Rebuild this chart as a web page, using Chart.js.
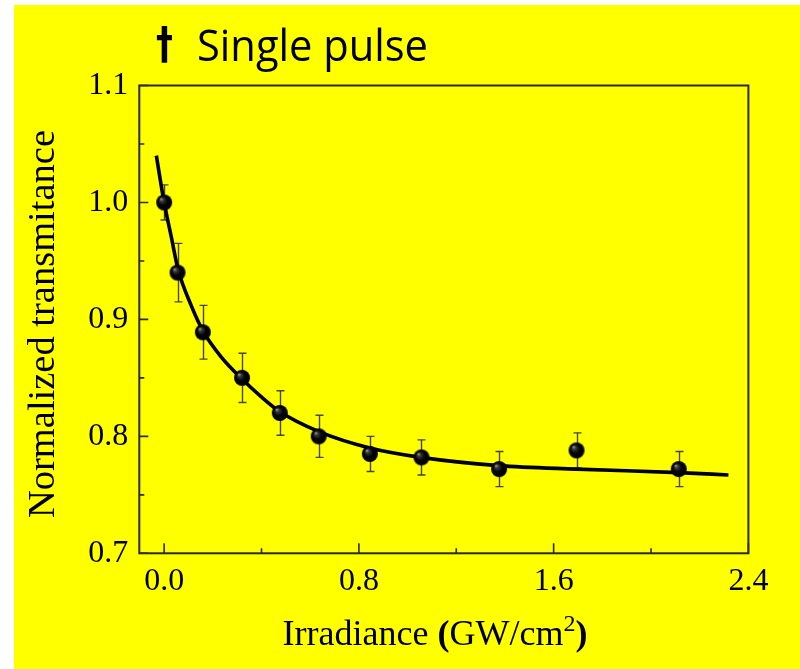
<!DOCTYPE html>
<html><head><meta charset="utf-8">
<script src="https://cdn.jsdelivr.net/npm/chart.js@4"></script>
<style>html,body{margin:0;padding:0;background:#fff;}#wrap{width:800px;height:669px;position:relative;}canvas{display:block;}</style>
</head><body><div id="wrap"><canvas id="c" width="800" height="669"></canvas></div>
<script>
// ---- data ----
const irradiance    = [0.0, 0.055, 0.159, 0.32, 0.475, 0.635, 0.845, 1.057, 1.376, 1.694, 2.114];
const transmittance = [1.000, 0.940, 0.889, 0.850, 0.820, 0.800, 0.785, 0.782, 0.772, 0.788, 0.772];
const errors        = [0.015, 0.025, 0.023, 0.021, 0.019, 0.018, 0.015, 0.015, 0.015, 0.015, 0.015];
const fitX = [-0.032, 0.000, 0.029, 0.057, 0.111, 0.160, 0.234, 0.320, 0.398, 0.476, 0.636, 0.845, 1.054, 1.374, 1.694, 2.113, 2.318];
const fitY = [1.040, 1.000, 0.971, 0.943, 0.912, 0.890, 0.868, 0.849, 0.834, 0.821, 0.804, 0.790, 0.782, 0.775, 0.772, 0.769, 0.767];
const xTicks = [0.0, 0.8, 1.6, 2.4];
const xMinorTicks = [0.4, 1.2, 2.0];
const yTicks = [0.7, 0.8, 0.9, 1.0, 1.1];
const yMinorTicks = [0.75, 0.85, 0.95, 1.05];
const titleDagger = '†';
const titleText = 'Single pulse';
const yTitle = 'Normalized transmitance';
const xTitleParts = ['Irradiance ', '(', 'GW/cm', '2', ')'];

function makeBall(r){
  const s = Math.ceil(r*2+2);
  const c = document.createElement('canvas'); c.width = s; c.height = s;
  const g = c.getContext('2d'); const cx = s/2, cy = s/2;
  const grad = g.createRadialGradient(cx-r*0.4, cy-r*0.45, 0, cx, cy, r);
  grad.addColorStop(0, '#b0b0b0'); grad.addColorStop(0.22, '#3a3a3a');
  grad.addColorStop(0.55, '#050505'); grad.addColorStop(1, '#000');
  g.fillStyle = grad; g.beginPath(); g.arc(cx, cy, r, 0, Math.PI*2); g.fill();
  return c;
}
const ball = makeBall(8);

const bgPlugin = {
  id: 'bg',
  beforeDraw(chart){
    const ctx = chart.ctx; ctx.save();
    ctx.fillStyle = '#fff'; ctx.fillRect(0,0,chart.width,chart.height);
    ctx.fillStyle = '#ffff00'; ctx.fillRect(14,5,chart.width-14,chart.height-5);
    ctx.restore();
  }
};

function fitText(ctx, text, x, y, font, width){
  ctx.font = font;
  const w = ctx.measureText(text).width;
  ctx.save(); ctx.translate(x, y); ctx.scale(width/w, 1);
  ctx.fillText(text, 0, 0); ctx.restore();
}

const framePlugin = {
  id: 'frame',
  beforeDatasetsDraw(chart){
    const {ctx, scales:{x, y}} = chart;
    ctx.save();
    ctx.strokeStyle = '#444'; ctx.lineWidth = 1.4;
    irradiance.forEach((v,i)=>{
      const px = Math.round(x.getPixelForValue(v)) + 0.5;
      const t = y.getPixelForValue(transmittance[i]+errors[i]);
      const b = y.getPixelForValue(transmittance[i]-errors[i]);
      ctx.beginPath();
      ctx.moveTo(px, t); ctx.lineTo(px, b);
      ctx.moveTo(px-4, t); ctx.lineTo(px+4, t);
      ctx.moveTo(px-4, b); ctx.lineTo(px+4, b);
      ctx.stroke();
    });
    ctx.restore();
  },
  afterDraw(chart){
    const {ctx, chartArea:a, scales:{x, y}} = chart;
    ctx.save();
    ctx.strokeStyle = '#2a2a2a'; ctx.lineWidth = 2;
    ctx.strokeRect(a.left, a.top, a.right-a.left, a.bottom-a.top);
    ctx.lineWidth = 1.6;
    ctx.beginPath();
    yTicks.forEach(v=>{const p=y.getPixelForValue(v); ctx.moveTo(a.left,p); ctx.lineTo(a.left+9,p);});
    yMinorTicks.forEach(v=>{const p=y.getPixelForValue(v); ctx.moveTo(a.left,p); ctx.lineTo(a.left+5,p);});
    xTicks.forEach(v=>{const p=x.getPixelForValue(v); ctx.moveTo(p,a.bottom); ctx.lineTo(p,a.bottom-10);});
    xMinorTicks.forEach(v=>{const p=x.getPixelForValue(v); ctx.moveTo(p,a.bottom); ctx.lineTo(p,a.bottom-5);});
    ctx.stroke();

    // chart title
    ctx.fillStyle = '#000'; ctx.textBaseline = 'alphabetic'; ctx.textAlign = 'left';
    fitText(ctx, titleDagger, 156, 59, 'bold 44px "DejaVu Sans"', 17);
    fitText(ctx, titleText, 197, 61, '43px "Open Sans"', 231);

    // y axis title
    ctx.save();
    ctx.translate(54, 324); ctx.rotate(-Math.PI/2);
    ctx.font = '37px "Liberation Serif"';
    const yw = ctx.measureText(yTitle).width;
    ctx.scale(388/yw, 1);
    ctx.textAlign = 'center';
    ctx.fillText(yTitle, 0, 0);
    ctx.restore();

    // x axis title
    const fonts = ['36px "Liberation Serif"','bold 36px "Liberation Serif"','36px "Liberation Serif"','24px "Liberation Serif"','bold 36px "Liberation Serif"'];
    const dy = [0,0,0,-14,0];
    let widths = xTitleParts.map((t,i)=>{ctx.font=fonts[i]; return ctx.measureText(t).width;});
    const total = widths.reduce((s,w)=>s+w,0);
    let cx = 435 - total/2;
    xTitleParts.forEach((t,i)=>{ctx.font=fonts[i]; ctx.fillText(t, cx, 645+dy[i]); cx += widths[i];});
    ctx.restore();
  }
};

new Chart(document.getElementById('c'), {
  type: 'scatter',
  data: {
    datasets: [
      {
        label: 'Measured',
        data: irradiance.map((v,i)=>({x:v, y:transmittance[i]})),
        pointStyle: ball, pointRadius: 8, pointHoverRadius: 8,
        showLine: false
      },
      {
        type: 'line',
        label: 'Fit',
        data: fitX.map((v,i)=>({x:v, y:fitY[i]})),
        borderColor: '#000', borderWidth: 3.6, pointRadius: 0,
        cubicInterpolationMode: 'monotone', fill: false
      }
    ]
  },
  options: {
    responsive: false, animation: false, devicePixelRatio: 1,
    layout: {padding: {top: 85.5, right: 51.6, bottom: 0, left: 0}},
    plugins: {legend: {display:false}, tooltip: {enabled:false}, title: {display:false}},
    scales: {
      x: {
        type: 'linear', min: -0.102, max: 2.4,
        afterBuildTicks: s => { s.ticks = xTicks.map(v=>({value:v})); },
        afterFit: s => { s.height = 115.7; },
        grid: {display:false, drawTicks:false}, border: {display:false},
        ticks: {color:'#000', font:{family:'Liberation Serif', size:32}, padding: 9, maxRotation:0, autoSkip:false,
          callback: v => Number(v).toFixed(1)}
      },
      y: {
        type: 'linear', min: 0.7, max: 1.1,
        afterBuildTicks: s => { s.ticks = yTicks.map(v=>({value:v})); },
        afterFit: s => { s.width = 139.3; },
        grid: {display:false, drawTicks:false}, border: {display:false},
        ticks: {color:'#000', font:{family:'Liberation Serif', size:32}, padding: 11,
          callback: v => Number(v).toFixed(1)}
      }
    }
  },
  plugins: [bgPlugin, framePlugin]
});
</script></body></html>
